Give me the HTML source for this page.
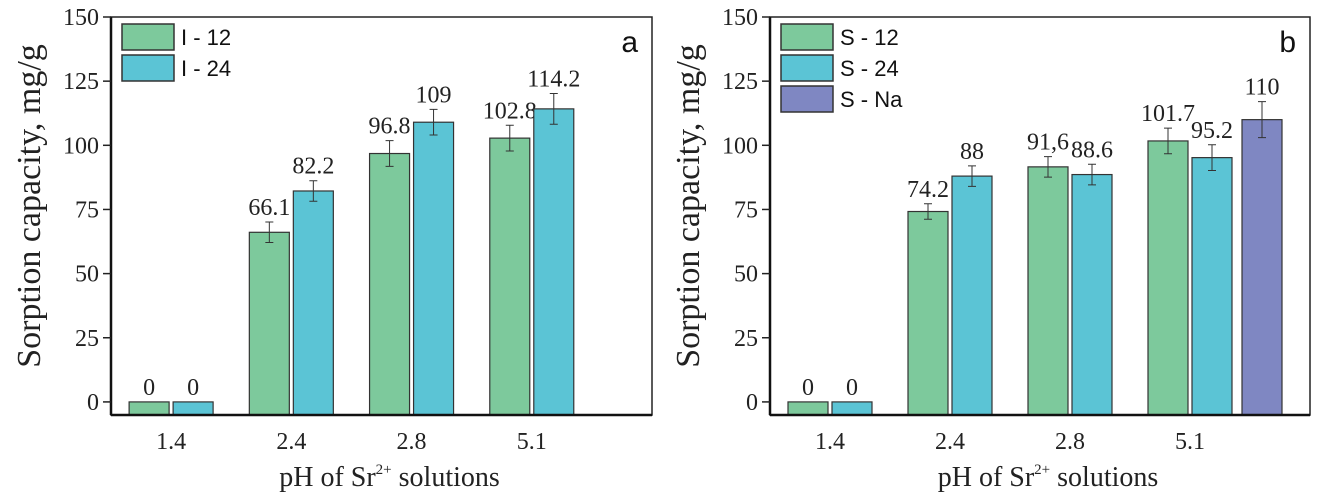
<!DOCTYPE html>
<html><head><meta charset="utf-8"><style>
html,body{margin:0;padding:0;background:#fff;}
svg{display:block;}
.tick{font-family:"Liberation Serif",serif;font-size:24px;fill:#222;}
.val{font-family:"Liberation Serif",serif;font-size:24px;fill:#222;}
.ttl{font-family:"Liberation Serif",serif;font-size:28px;fill:#222;}
.yttl{font-family:"Liberation Serif",serif;font-size:34px;fill:#222;}
.leg{font-family:"Liberation Sans",sans-serif;font-size:22px;fill:#111;}
.pl{font-family:"Liberation Sans",sans-serif;font-size:30px;fill:#111;}
</style></head><body>
<svg id="chart" width="1323" height="497" viewBox="0 0 1323 497" xmlns="http://www.w3.org/2000/svg"></svg>
<script>
const categories = ["1.4", "2.4", "2.8", "5.1"];
const yTicks = [0, 25, 50, 75, 100, 125, 150];
// Panel a
const aSeriesNames = ["I - 12", "I - 24"];
const aI12 = [0, 66.1, 96.8, 102.8];
const aI24 = [0, 82.2, 109, 114.2];
const aI12Err = [0, 4, 5, 5];
const aI24Err = [0, 4, 5, 6];
const aI12Labels = ["0", "66.1", "96.8", "102.8"];
const aI24Labels = ["0", "82.2", "109", "114.2"];
// Panel b
const bSeriesNames = ["S - 12", "S - 24", "S - Na"];
const bS12 = [0, 74.2, 91.6, 101.7];
const bS24 = [0, 88, 88.6, 95.2];
const bS12Err = [0, 3, 4, 5];
const bS24Err = [0, 4, 4, 5];
const bS12Labels = ["0", "74.2", "91,6", "101.7"];
const bS24Labels = ["0", "88", "88.6", "95.2"];
const bNaCategory = [3];
const bNa = [110];
const bNaErr = [7];
const bNaLabels = ["110"];

const NS = "http://www.w3.org/2000/svg";
const svgEl = document.getElementById("chart");
function mk(tag, attrs, parent, text) {
  const e = document.createElementNS(NS, tag);
  for (const k in attrs) e.setAttribute(k, attrs[k]);
  if (text !== undefined) e.textContent = text;
  (parent || svgEl).appendChild(e);
  return e;
}
const colors = ["#7dc99c", "#5bc4d5", "#7f87c2"];
const yMin = -5.1, yMax = 150;
const plotTop = 17, plotBottom = 415;

function panel(left, right, letter, series, names, extra, ytitleX) {
  const g = mk("g", {});
  
  
  const slot = (right - left) / 4.5;
  const xC = i => left + slot * (i + 0.5);
  const yS = v => plotBottom - (v - yMin) / (yMax - yMin) * (plotBottom - plotTop);
  const bw = 40, gap = 4;
  series.forEach((s, si) => {
    s.vals.forEach((v, i) => {
      const x = xC(i) + (si === 0 ? -gap / 2 - bw : gap / 2);
      const r = mk("rect", {x: x, y: yS(v), width: bw, height: plotBottom - yS(v), fill: colors[si], stroke: "#333", "stroke-width": 1.2}, g);
      
      
      const cx = x + bw / 2;
      const e = s.err[i];
      if (e > 0) {
        const eb = mk("path", {d: `M${cx},${yS(v - e)}V${yS(v + e)}M${cx - 4},${yS(v - e)}h8M${cx - 4},${yS(v + e)}h8`, stroke: "#333", "stroke-width": 1, fill: "none"}, g);
        
        
      }
      const t = mk("text", {x: cx, y: yS(v + e) - 7, "text-anchor": "middle", class: "val"}, g, s.labels[i]);
      
      
    });
  });
  if (extra) {
    extra.cats.forEach((ci, k) => {
      const v = extra.vals[k], e = extra.err[k];
      const x = xC(ci) + gap / 2 + bw + 10;
      const r = mk("rect", {x: x, y: yS(v), width: bw, height: plotBottom - yS(v), fill: colors[2], stroke: "#333", "stroke-width": 1.2}, g);
      
      
      const cx = x + bw / 2;
      const eb = mk("path", {d: `M${cx},${yS(v - e)}V${yS(v + e)}M${cx - 4},${yS(v - e)}h8M${cx - 4},${yS(v + e)}h8`, stroke: "#333", "stroke-width": 1, fill: "none"}, g);
      
      
      const t = mk("text", {x: cx, y: yS(v + e) - 7, "text-anchor": "middle", class: "val"}, g, extra.labels[k]);
      
      
    });
  }
  const fr = mk("rect", {x: left, y: plotTop, width: right - left, height: plotBottom - plotTop, fill: "none", stroke: "#222", "stroke-width": 1.5}, g);
  
  
  mk("line", {x1: left, x2: left, y1: plotTop, y2: plotBottom, stroke: "#111", "stroke-width": 2.5}, g);
  mk("line", {x1: left, x2: right, y1: plotBottom, y2: plotBottom, stroke: "#111", "stroke-width": 2.5}, g);
  yTicks.forEach(v => {
    mk("line", {x1: left - 8, x2: left, y1: yS(v), y2: yS(v), stroke: "#222", "stroke-width": 1.5}, g);
    const t = mk("text", {x: left - 12, y: yS(v) + 8, "text-anchor": "end", class: "tick"}, g, v);
    
    
  });
  categories.forEach((c, i) => {
    const t = mk("text", {x: xC(i), y: 449, "text-anchor": "middle", class: "tick"}, g, c);
    
    
  });
  const xt = mk("text", {x: (left + right) / 2 + 8, y: 486, "text-anchor": "middle", class: "ttl"}, g);
  
  
  mk("tspan", {}, xt, "pH of Sr");
  mk("tspan", {dy: -12, "font-size": "15px"}, xt, "2+");
  mk("tspan", {dy: 12}, xt, " solutions");
  const yt = mk("text", {x: ytitleX, y: 206, "text-anchor": "middle", class: "yttl", transform: `rotate(-90 ${ytitleX} 206)`}, g, "Sorption capacity, mg/g");
  
  
  names.forEach((n, i) => {
    const ly = 24 + i * 31;
    const r = mk("rect", {x: left + 11, y: ly, width: 52, height: 26, fill: colors[i], stroke: "#333", "stroke-width": 1.5}, g);
    
    
    const t = mk("text", {x: left + 70, y: ly + 21, class: "leg"}, g, n);
    
    
  });
  const pl = mk("text", {x: right - 14, y: 52, "text-anchor": "end", class: "pl"}, g, letter);
  
  
}

panel(111, 652, "a", [
  {vals: aI12, err: aI12Err, labels: aI12Labels},
  {vals: aI24, err: aI24Err, labels: aI24Labels}
], aSeriesNames, null, 40);
panel(770, 1310, "b", [
  {vals: bS12, err: bS12Err, labels: bS12Labels},
  {vals: bS24, err: bS24Err, labels: bS24Labels}
], bSeriesNames, {cats: bNaCategory, vals: bNa, err: bNaErr, labels: bNaLabels}, 699);
</script>
</body></html>
